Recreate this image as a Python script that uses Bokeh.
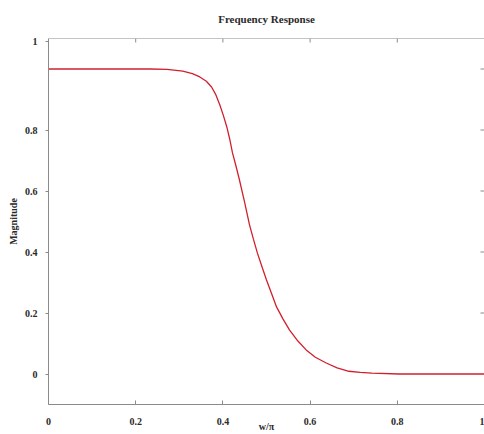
import math
from bokeh.plotting import figure
from bokeh.models import FixedTicker, Range1d, Span
from bokeh.embed import file_html
from bokeh.resources import INLINE

# Data (normalized frequency w/pi vs magnitude)
freq = [0.0, 0.10, 0.20, 0.233, 0.272, 0.308, 0.330, 0.347, 0.362, 0.374, 0.384,
        0.393, 0.401, 0.409, 0.416, 0.422, 0.430, 0.438, 0.450, 0.461, 0.470,
        0.479, 0.490, 0.500, 0.512, 0.523, 0.538, 0.553, 0.572, 0.591, 0.612,
        0.637, 0.662, 0.689, 0.715, 0.742, 0.804, 0.90, 1.0]
mag = [1.0, 1.0, 1.0, 1.0, 0.999, 0.993, 0.985, 0.974, 0.960, 0.941, 0.915,
       0.882, 0.848, 0.810, 0.768, 0.725, 0.682, 0.636, 0.562, 0.489, 0.442,
       0.397, 0.350, 0.308, 0.262, 0.220, 0.180, 0.144, 0.108, 0.079, 0.055,
       0.036, 0.020, 0.009, 0.005, 0.003, 0.0, 0.0, 0.0]

x_ticks = [0, 0.2, 0.4, 0.6, 0.8, 1.0]
x_tick_labels = {0: "0", 0.2: "0.2", 0.4: "0.4", 0.6: "0.6", 0.8: "0.8", 1.0: "1"}
y_ticks = [0, 0.2, 0.4, 0.6, 0.8, 1.09]
y_tick_labels = {0: "0", 0.2: "0.2", 0.4: "0.4", 0.6: "0.6", 0.8: "0.8", 1.09: "1"}
top_ticks = [0.2, 0.4, 0.6, 0.8]
right_ticks = [0.2, 0.4, 0.6, 0.8, 1.0]

x_min, x_max = 0, 1
y_min, y_max = -0.1, 1.1

title_text = "Frequency Response"
x_label = "w/\u03c0"
y_label = "Magnitude"

FONT = "Liberation Serif"
AXIS_COLOR = "#8a8a8a"
TEXT_COLOR = "#2a2a2a"

p = figure(width=484, height=434, output_backend="svg", toolbar_location=None,
           x_range=Range1d(x_min, x_max), y_range=Range1d(y_min, y_max),
           min_border_left=48, min_border_right=0, min_border_top=38,
           min_border_bottom=30, background_fill_color="white",
           border_fill_color="white")

p.title.text = title_text
p.title.align = "center"
p.title.vertical_align = "top"
p.title.text_font = FONT
p.title.text_font_size = "11px"
p.title.text_font_style = "bold"
p.title.text_color = TEXT_COLOR
p.title.standoff = 24

p.grid.visible = False
p.outline_line_color = None

# top frame border
p.add_layout(Span(location=y_max, dimension="width", line_color=AXIS_COLOR,
                  line_width=1))

p.line(freq, mag, line_color="#d0202e", line_width=1.3)

# inner tick marks on the top and right edges
p.ray(x=top_ticks, y=[y_max] * len(top_ticks), length=4, length_units="screen",
      angle=-math.pi / 2, line_color=AXIS_COLOR, line_width=1)
p.ray(x=[x_max] * len(right_ticks), y=right_ticks, length=4, length_units="screen",
      angle=math.pi, line_color=AXIS_COLOR, line_width=1)

xa = p.xaxis[0]
xa.ticker = FixedTicker(ticks=x_ticks)
xa.major_label_overrides = x_tick_labels
xa.minor_tick_line_color = None
xa.major_tick_in = 4
xa.major_tick_out = 0
xa.axis_line_color = AXIS_COLOR
xa.major_tick_line_color = AXIS_COLOR
xa.major_label_text_font = FONT
xa.major_label_text_font_size = "10px"
xa.major_label_text_font_style = "bold"
xa.major_label_text_color = TEXT_COLOR
xa.major_label_standoff = 13
xa.axis_label = x_label
xa.axis_label_text_font = FONT
xa.axis_label_text_font_size = "10px"
xa.axis_label_text_font_style = "bold"
xa.axis_label_text_color = TEXT_COLOR
xa.axis_label_standoff = -7

ya = p.yaxis[0]
ya.ticker = FixedTicker(ticks=y_ticks)
ya.major_label_overrides = y_tick_labels
ya.minor_tick_line_color = None
ya.major_tick_in = 0
ya.major_tick_out = 3
ya.axis_line_color = AXIS_COLOR
ya.major_tick_line_color = AXIS_COLOR
ya.major_label_text_font = FONT
ya.major_label_text_font_size = "10px"
ya.major_label_text_font_style = "bold"
ya.major_label_text_color = TEXT_COLOR
ya.major_label_standoff = 8
ya.axis_label = y_label
ya.axis_label_text_font = FONT
ya.axis_label_text_font_size = "10px"
ya.axis_label_text_font_style = "bold"
ya.axis_label_text_color = TEXT_COLOR
ya.axis_label_standoff = 3

open("out.html", "w").write(file_html(p, INLINE))
